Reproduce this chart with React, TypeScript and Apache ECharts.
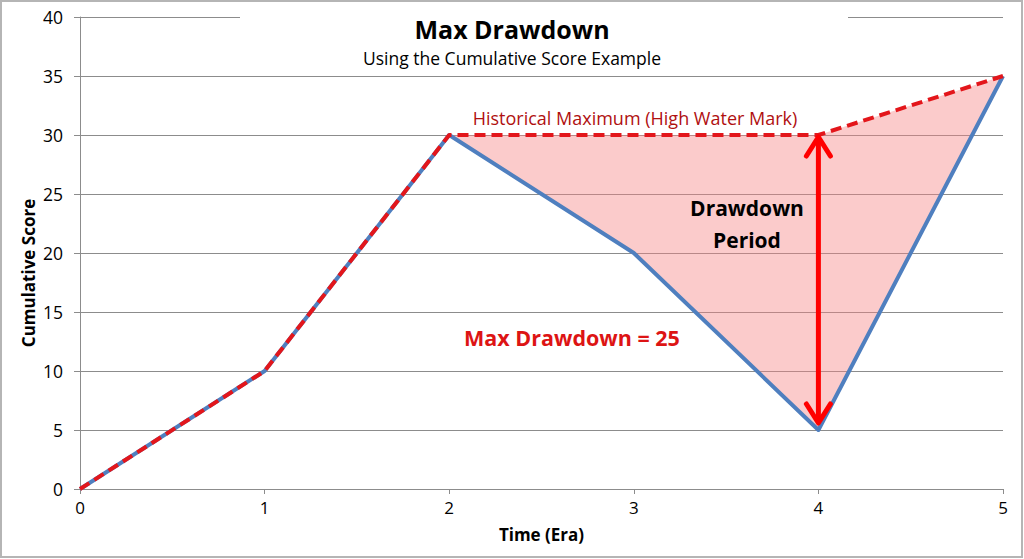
import React, { useEffect, useRef } from "react";
import * as echarts from "echarts";

const eras = [0, 1, 2, 3, 4, 5];
const scores = [0, 10, 30, 20, 5, 35];
const highWater = [0, 10, 30, 30, 30, 35];
const yTicks = { min: 0, max: 40, step: 5 };
const drawdownEra = 4;
const drawdownStart = 2;

const FONT = "'Open Sans', 'Noto Sans', sans-serif";

export default function App() {
  const ref = useRef<HTMLDivElement>(null);
  useEffect(() => {
    document.body.style.margin = "0";
    if (!ref.current) return;
    const chart = echarts.init(ref.current, null, { renderer: "svg" });

    const areaPts: number[][] = [];
    for (let i = drawdownStart; i < eras.length; i++) areaPts.push([eras[i], highWater[i]]);
    for (let i = eras.length - 1; i >= drawdownStart; i--) areaPts.push([eras[i], scores[i]]);

    const ddIdx = eras.indexOf(drawdownEra);

    chart.setOption({
      animation: false,
      backgroundColor: "#fff",
      textStyle: { fontFamily: FONT },
      grid: { left: 80, right: 21, top: 17, bottom: 70, containLabel: false },
      xAxis: {
        type: "value",
        min: 0,
        max: 5,
        interval: 1,
        name: "Time (Era)",
        nameLocation: "middle",
        nameGap: 37,
        nameTextStyle: { fontFamily: FONT, fontWeight: "bold", fontSize: 17, color: "#000" },
        axisLine: { show: true, lineStyle: { color: "#8c8c8c", width: 1 } },
        axisTick: { show: true, length: 5, lineStyle: { color: "#8c8c8c" } },
        axisLabel: { fontFamily: FONT, fontSize: 17, color: "#000", margin: 10 },
        splitLine: { show: false },
      },
      yAxis: {
        type: "value",
        min: yTicks.min,
        max: yTicks.max,
        interval: yTicks.step,
        axisLine: { show: true, lineStyle: { color: "#8c8c8c", width: 1 } },
        axisTick: { show: true, length: 6, lineStyle: { color: "#8c8c8c" } },
        axisLabel: { fontFamily: FONT, fontSize: 17.5, color: "#000", margin: 17 },
        splitLine: { show: true, lineStyle: { color: "#8c8c8c", width: 1 } },
      },
      series: [
        {
          type: "custom",
          name: "area",
          z: 1,
          data: [[drawdownEra, highWater[ddIdx]]],
          renderItem: (params: any, api: any) => {
            const pts = areaPts.map((p) => api.coord(p));
            return {
              type: "polygon",
              shape: { points: pts },
              style: { fill: "rgba(246,130,130,0.42)", stroke: "none" },
            };
          },
        },
        {
          type: "line",
          name: "Cumulative Score",
          z: 2,
          data: eras.map((e, i) => [e, scores[i]]),
          showSymbol: false,
          symbol: "none",
          lineStyle: { color: "#4f7fbf", width: 4, join: "round" },
        },
        {
          type: "line",
          name: "High Water Mark",
          z: 3,
          data: eras.map((e, i) => [e, highWater[i]]),
          showSymbol: false,
          symbol: "none",
          lineStyle: { color: "#e3161b", width: 4, type: [11, 6] },
        },
        {
          type: "custom",
          name: "arrow",
          z: 4,
          data: [[drawdownEra, highWater[ddIdx], scores[ddIdx]]],
          renderItem: (params: any, api: any) => {
            const top = api.coord([api.value(0), api.value(1)]);
            const bot = api.coord([api.value(0), api.value(2)]);
            const x = top[0];
            const t = top[1] + 2;
            const b = bot[1] - 7;
            const hw = 12;
            const hl = 19;
            const st = { stroke: "#ff0000", lineWidth: 5, fill: "none", lineCap: "round", lineJoin: "round" };
            return {
              type: "group",
              children: [
                { type: "line", shape: { x1: x, y1: t + 3, x2: x, y2: b - 3 }, style: st },
                { type: "polyline", shape: { points: [[x - hw, t + hl], [x, t], [x + hw, t + hl]] }, style: st },
                { type: "polyline", shape: { points: [[x - hw, b - hl], [x, b], [x + hw, b - hl]] }, style: st },
              ],
            };
          },
        },
      ],
      graphic: [
        { type: "rect", shape: { x: 240, y: 4, width: 608, height: 68 }, style: { fill: "#fff" }, z: 10 },
        {
          type: "text", z: 11, x: 512, y: 29,
          style: { text: "Max Drawdown", fontFamily: FONT, fontWeight: "bold", fontSize: 25, fill: "#000", align: "center", verticalAlign: "middle" },
        },
        {
          type: "text", z: 11, x: 512, y: 58,
          style: { text: "Using the Cumulative Score Example", fontFamily: FONT, fontSize: 17.5, fill: "#000", align: "center", verticalAlign: "middle" },
        },
        {
          type: "text", z: 11, x: 635, y: 118,
          style: { text: "Historical Maximum (High Water Mark)", fontFamily: FONT, fontSize: 18, fill: "#b01010", align: "center", verticalAlign: "middle" },
        },
        {
          type: "text", z: 11, x: 747, y: 224,
          style: { text: "Drawdown\nPeriod", fontFamily: FONT, fontWeight: "bold", fontSize: 21, lineHeight: 32, fill: "#000", align: "center", verticalAlign: "middle" },
        },
        {
          type: "text", z: 11, x: 572, y: 337,
          style: { text: "Max Drawdown = 25", fontFamily: FONT, fontWeight: "bold", fontSize: 21.5, fill: "#dd1414", align: "center", verticalAlign: "middle" },
        },
        {
          type: "text", z: 11, x: 28, y: 273, rotation: Math.PI / 2,
          style: { text: "Cumulative Score", fontFamily: FONT, fontWeight: "bold", fontSize: 17, fill: "#000", align: "center", verticalAlign: "middle" },
        },
        {
          type: "rect", z: 12, silent: true,
          shape: { x: 1, y: 1, width: 1021, height: 556 },
          style: { fill: "none", stroke: "#b5b5b5", lineWidth: 2 },
        },
      ],
    });
    return () => chart.dispose();
  }, []);
  return <div ref={ref} style={{ width: 1024, height: 559 }} />;
}
